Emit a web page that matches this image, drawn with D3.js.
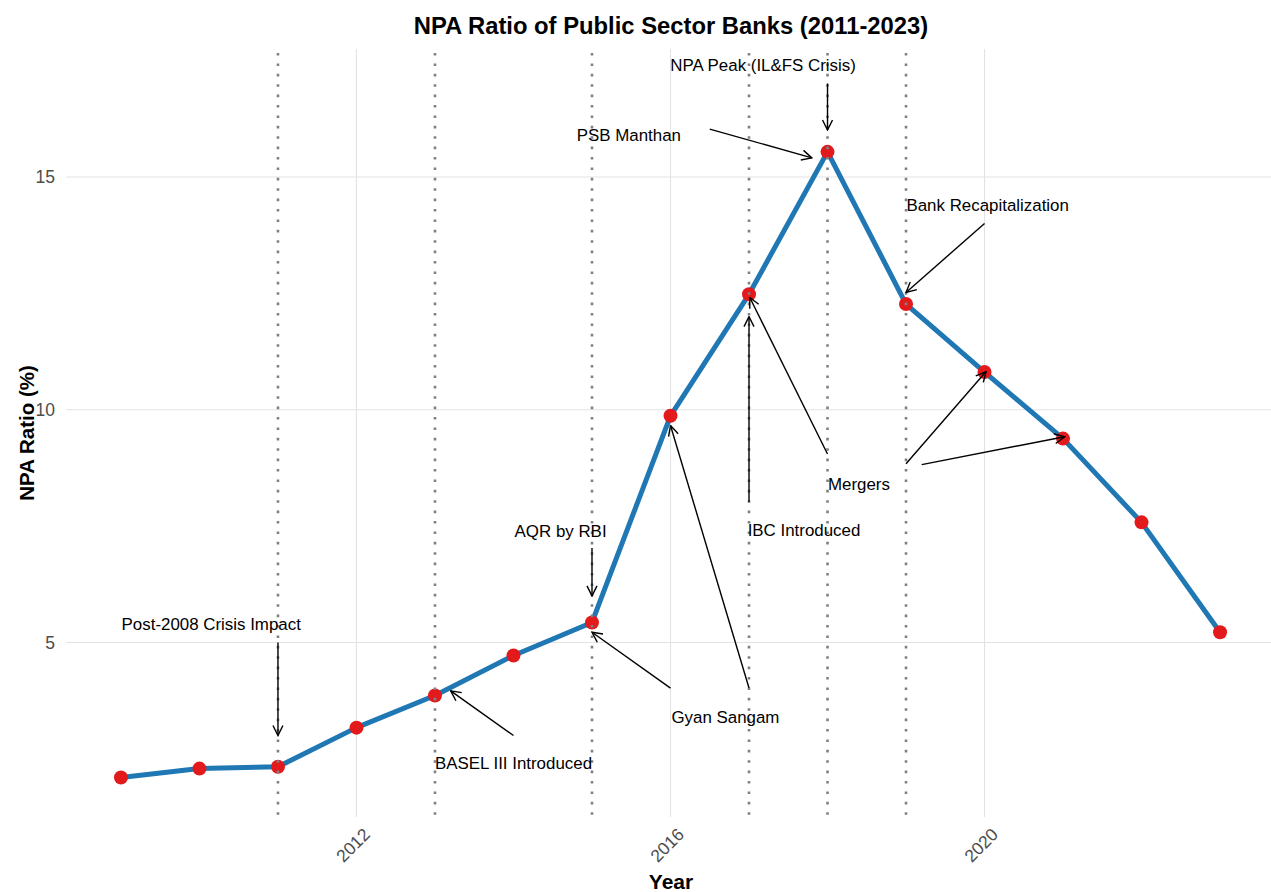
<!DOCTYPE html>
<html>
<head>
<meta charset="utf-8">
<script src="https://cdn.jsdelivr.net/npm/d3@7"></script>
<style>
  body { margin: 0; background: #fff; }
  text { font-family: "Liberation Sans", Arial, sans-serif; }
</style>
</head>
<body>
<svg id="viz-container" width="1271" height="892"></svg>
<script>
// npa series
var years = [2009, 2010, 2011, 2012, 2013, 2014, 2015, 2016, 2017, 2018, 2019, 2020, 2021, 2022, 2023];
var npaRatio = [2.10, 2.29, 2.33, 3.17, 3.86, 4.72, 5.43, 9.87, 12.48, 15.54, 12.27, 10.81, 9.38, 7.58, 5.22];

// policy event years (dotted lines)
var eventYears = [2011, 2013, 2015, 2017, 2018, 2019];

// annotation text
var annoLabels = ["Post-2008 Crisis Impact", "BASEL III Introduced", "AQR by RBI", "Gyan Sangam",
  "IBC Introduced", "Mergers", "PSB Manthan", "NPA Peak (IL&FS Crisis)", "Bank Recapitalization"];
var annoX = [2010.15, 2014.0, 2014.6, 2016.7, 2017.7, 2018.4, 2015.47, 2017.18, 2020.04];
var annoY = [5.4, 2.4, 7.4, 3.4, 7.42, 8.41, 15.91, 17.4, 14.4];

// annotation arrows (from -> to)
var arrowX0 = [2011, 2014, 2015, 2016, 2017, 2017, 2018, 2019, 2019.2, 2016.5, 2018, 2020];
var arrowY0 = [5.0, 3.0, 7.03, 4.02, 4.02, 8.02, 9.05, 8.84, 8.82, 16.03, 17.01, 14.0];
var arrowX1 = [2011, 2013.2, 2015, 2015, 2016, 2017, 2017.01, 2020.02, 2021.02, 2017.8, 2018, 2019];
var arrowY1 = [3.0, 3.96, 6.0, 5.22, 9.66, 12.0, 12.41, 10.82, 9.42, 15.41, 16.01, 12.52];

var xTicks = [2012, 2016, 2020];
var yTicks = [5, 10, 15];

var svg = d3.select("#viz-container");

var panel = { left: 66, right: 1275, top: 49, bottom: 817 };

var x = d3.scaleLinear().domain([2008.3, 2023.7]).range([panel.left, panel.right]);
var y = d3.scaleLinear().domain([1.25, 17.75]).range([panel.bottom, panel.top]);

// arrow head
svg.append("defs").append("marker")
  .attr("id", "arrow")
  .attr("viewBox", "0 0 12 12")
  .attr("refX", 11).attr("refY", 6)
  .attr("markerWidth", 12).attr("markerHeight", 12)
  .attr("markerUnits", "userSpaceOnUse")
  .attr("orient", "auto")
 .append("path")
  .attr("d", "M1,1 L11,6 L1,11")
  .attr("fill", "none")
  .attr("stroke", "#000")
  .attr("stroke-width", 1.4);

// grid
var grid = svg.append("g").attr("id", "grid");
grid.selectAll(".hgrid").data(yTicks)
 .enter().append("line")
  .attr("x1", panel.left).attr("x2", panel.right)
  .attr("y1", d => y(d)).attr("y2", d => y(d))
  .attr("stroke", "#e3e3e3").attr("stroke-width", 1.1);
grid.selectAll(".vgrid").data(xTicks)
 .enter().append("line")
  .attr("x1", d => x(d)).attr("x2", d => x(d))
  .attr("y1", panel.top).attr("y2", panel.bottom)
  .attr("stroke", "#e3e3e3").attr("stroke-width", 1.1);

// axes text
svg.append("g").selectAll("text").data(yTicks)
 .enter().append("text")
  .attr("x", 55).attr("y", d => y(d))
  .attr("dy", "0.35em")
  .attr("text-anchor", "end")
  .attr("font-size", 17.5)
  .attr("fill", "#4d4d4d")
  .text(d => d);

svg.append("g").selectAll("text").data(xTicks)
 .enter().append("text")
  .attr("transform", d => "translate(" + (x(d) + 6) + "," + 827 + ") rotate(-45)")
  .attr("text-anchor", "end")
  .attr("dy", "0.7em")
  .attr("font-size", 17.5)
  .attr("fill", "#4d4d4d")
  .text(d => d);

// line + points
var series = years.map((yr, i) => ({ year: yr, value: npaRatio[i] }));
var line = d3.line().x(d => x(d.year)).y(d => y(d.value));

svg.append("path")
  .datum(series)
  .attr("d", line)
  .attr("fill", "none")
  .attr("stroke", "#1f78b4")
  .attr("stroke-width", 5)
  .attr("stroke-linejoin", "round");

svg.append("g").selectAll("circle").data(series)
 .enter().append("circle")
  .attr("cx", d => x(d.year))
  .attr("cy", d => y(d.value))
  .attr("r", 7)
  .attr("fill", "#e31a1c");

// event lines
svg.append("g").selectAll("line").data(eventYears)
 .enter().append("line")
  .attr("x1", d => x(d)).attr("x2", d => x(d))
  .attr("y1", panel.top + 4).attr("y2", panel.bottom)
  .attr("stroke", "#808080")
  .attr("stroke-width", 2.6)
  .attr("stroke-dasharray", "2.6,7.8");

// arrows
svg.append("g").selectAll("line").data(arrowX0)
 .enter().append("line")
  .attr("x1", (d, i) => x(arrowX0[i]))
  .attr("y1", (d, i) => y(arrowY0[i]))
  .attr("x2", (d, i) => x(arrowX1[i]))
  .attr("y2", (d, i) => y(arrowY1[i]))
  .attr("stroke", "#000")
  .attr("stroke-width", 1.4)
  .attr("marker-end", "url(#arrow)");

// annotation labels
svg.append("g").selectAll("text").data(annoLabels)
 .enter().append("text")
  .attr("x", (d, i) => x(annoX[i]))
  .attr("y", (d, i) => y(annoY[i]))
  .attr("dy", "0.35em")
  .attr("text-anchor", "middle")
  .attr("font-size", 16.9)
  .attr("fill", "#000")
  .text(d => d);

// titles
svg.append("text")
  .attr("x", 671).attr("y", 34)
  .attr("text-anchor", "middle")
  .attr("font-size", 23.8)
  .attr("font-weight", "bold")
  .text("NPA Ratio of Public Sector Banks (2011-2023)");

svg.append("text")
  .attr("x", 671).attr("y", 889)
  .attr("text-anchor", "middle")
  .attr("font-size", 21)
  .attr("font-weight", "bold")
  .text("Year");

svg.append("text")
  .attr("transform", "translate(34," + ((panel.top + panel.bottom) / 2) + ") rotate(-90)")
  .attr("text-anchor", "middle")
  .attr("font-size", 20.5)
  .attr("font-weight", "bold")
  .text("NPA Ratio (%)");
</script>
</body>
</html>
